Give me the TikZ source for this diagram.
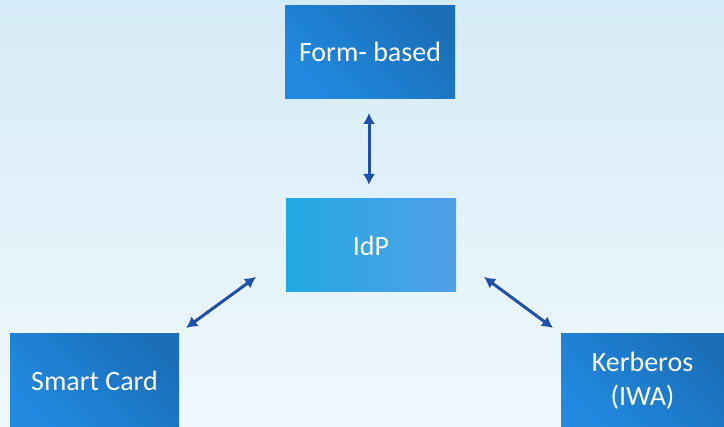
\documentclass[tikz,border=0pt]{standalone}
\usepackage{fontspec}
\setmainfont{Carlito}
\usetikzlibrary{arrows.meta}
\definecolor{bgtop}{HTML}{D5EBF7}
\definecolor{bgbot}{HTML}{F0F8FD}
\definecolor{boxdark}{HTML}{1A6FB8}
\definecolor{boxlight}{HTML}{2189E0}
\definecolor{idpa}{HTML}{22A8E0}
\definecolor{idpb}{HTML}{52A0E8}
\definecolor{arrowblue}{HTML}{2050A8}
\tikzset{
  method/.style={draw=none, minimum width=170pt, minimum height=93pt, inner sep=0pt,
    text=white, font=\fontsize{28}{34}\selectfont, align=center,
    shading=axis, left color=boxlight, right color=boxdark, shading angle=135},
  hub/.style={method, left color=idpa, right color=idpb},
  link/.style={arrowblue, line width=3pt, {Latex[length=11pt,width=12pt]}-{Latex[length=11pt,width=12pt]}}
}
\begin{document}
\begin{tikzpicture}[x=1pt,y=1pt]
  \shade[top color=bgtop, bottom color=bgbot] (0,0) rectangle (724,427);
  \useasboundingbox (0,0) rectangle (724,427);
  \node[method] (form) at (370,375) {Form- based};
  \node[hub] (idp) at (371,181.5) {IdP};
  \node[method, minimum width=169pt] (smart) at (94.5,46.5) {Smart Card};
  \node[method, minimum width=163pt] (kerb) at (642.5,46.5) {Kerberos\\(IWA)};
  \coordinate (fa) at (369,314);
  \coordinate (fb) at (369,242);
  \coordinate (la) at (256,150);
  \coordinate (lb) at (186,99);
  \coordinate (ra) at (484,150);
  \coordinate (rb) at (553,99);
  \draw[link] (fa) -- (fb);
  \draw[link] (la) -- (lb);
  \draw[link] (ra) -- (rb);
\end{tikzpicture}
\end{document}
